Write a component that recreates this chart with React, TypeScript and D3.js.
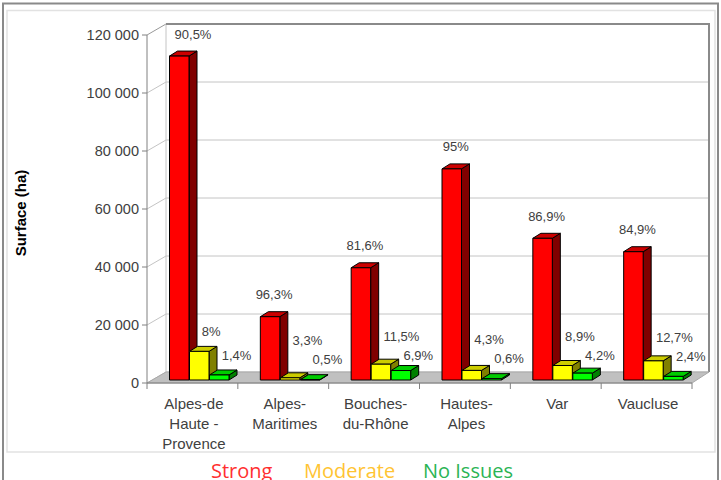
import React from "react";
import * as d3 from "d3";

const categories: string[][] = [
  ["Alpes-de", "Haute -", "Provence"],
  ["Alpes-", "Maritimes"],
  ["Bouches-", "du-Rhône"],
  ["Hautes-", "Alpes"],
  ["Var"],
  ["Vaucluse"],
];
const seriesNames = ["Strong", "Moderate", "No Issues"];
const strongValues = [111700, 21830, 38700, 72800, 48860, 44240];
const moderateValues = [9870, 750, 5450, 3300, 5000, 6600];
const noIssuesValues = [1730, 110, 3270, 460, 2360, 1250];
const strongPct = ["90,5%", "96,3%", "81,6%", "95%", "86,9%", "84,9%"];
const moderatePct = ["8%", "3,3%", "11,5%", "4,3%", "8,9%", "12,7%"];
const noIssuesPct = ["1,4%", "0,5%", "6,9%", "0,6%", "4,2%", "2,4%"];
const yTicks = [0, 20000, 40000, 60000, 80000, 100000, 120000];

const W = 721;
const H = 480;
const DX = 19; // wall depth
const DY = 11;
const BDX = 8; // bar depth
const BDY = 5;

const fmt = d3
  .formatLocale({ decimal: ",", thousands: " ", grouping: [3], currency: ["", ""] })
  .format(",d");

const palette = [
  { front: "#ff0000", top: "#cc0000", side: "#800000" },
  { front: "#ffff00", top: "#cccc00", side: "#808000" },
  { front: "#00ff00", top: "#00cc00", side: "#008000" },
];
const legendColors = ["#ff3030", "#ffc433", "#2bb454"];

export default function App() {
  const y = d3.scaleLinear().domain([0, 120000]).range([383, 35]);
  const names = categories.map((c) => c.join(" "));
  const x = d3.scaleBand<string>().domain(names).range([147, 692]).padding(0);
  const inner = d3.scaleBand<string>().domain(seriesNames).range([22.5, 82.5]).padding(0);
  const bw = 19.5;
  const values = [strongValues, moderateValues, noIssuesValues];
  const pcts = [strongPct, moderatePct, noIssuesPct];

  const wallLeft = 147 + DX;
  const wallRight = 692 + DX - 2;
  const wallTop = y(120000) - DY;
  const floorBack = y(0) - DY;

  const bars: React.ReactNode[] = [];
  const labels: React.ReactNode[] = [];
  names.forEach((name, i) => {
    const x0 = x(name)!;
    let greenCenter = 0;
    const tops: number[] = [];
    seriesNames.forEach((s, k) => {
      const v = values[k][i];
      const left = x0 + inner(s)!;
      const right = left + bw;
      const top = y(v) - 3;
      const bottom = 380;
      tops.push(top);
      const c = palette[k];
      bars.push(
        <g key={`b${i}-${k}`} stroke="#000" strokeWidth={1} strokeLinejoin="round">
          <polygon
            points={`${right},${top} ${right + BDX},${top - BDY} ${right + BDX},${bottom - BDY} ${right},${bottom}`}
            fill={c.side}
          />
          <polygon
            points={`${left},${top} ${left + BDX},${top - BDY} ${right + BDX},${top - BDY} ${right},${top}`}
            fill={c.top}
          />
          <rect x={left} y={top} width={bw} height={bottom - top} fill={c.front} />
        </g>
      );
    });
    // labels
    const centers = seriesNames.map((s) => x0 + inner(s)! + bw / 2);
    // red
    let redCx = centers[0] + 4;
    const redW = pcts[0][i].length * 7.2;
    if (redCx - redW / 2 < wallLeft + 9) redCx = wallLeft + 9 + redW / 2;
    labels.push(
      <text key={`l${i}-0`} x={redCx} y={tops[0] - 22 + 4.5} textAnchor="middle">
        {pcts[0][i]}
      </text>
    );
    greenCenter = Math.max(tops[2] - 20, 355);
    const yellowCenter = Math.min(tops[1] - 20, greenCenter - 19);
    labels.push(
      <text key={`l${i}-1`} x={centers[1] + 2.5} y={yellowCenter + 4.5}>
        {pcts[1][i]}
      </text>
    );
    labels.push(
      <text key={`l${i}-2`} x={centers[2] + 2.5} y={greenCenter + 4.5}>
        {pcts[2][i]}
      </text>
    );
  });

  return (
    <svg
      width={W}
      height={H}
      style={{ position: "absolute", left: 0, top: 0, background: "#fff" }}
      fontFamily="'Liberation Sans', Arial, sans-serif"
    >
      <rect x={0} y={0} width={W} height={H} fill="#fff" />
      {/* frames */}
      <rect x={3} y={3.5} width={715} height={490} fill="none" stroke="#8a8a8a" strokeWidth={2} />
      <rect x={7} y={10.5} width={708} height={441.5} fill="none" stroke="#e2e2e2" strokeWidth={1.5} />

      {/* back wall */}
      <rect x={wallLeft} y={wallTop} width={wallRight - wallLeft} height={floorBack - wallTop} fill="#fff" />
      {yTicks.map((t) => (
        <line
          key={`g${t}`}
          x1={wallLeft}
          x2={wallRight}
          y1={y(t) - DY}
          y2={y(t) - DY}
          stroke="#c4c4c4"
          strokeWidth={1}
        />
      ))}
      {yTicks.map((t) => (
        <line
          key={`d${t}`}
          x1={147}
          y1={y(t)}
          x2={wallLeft}
          y2={y(t) - DY}
          stroke={t === 120000 ? "#999" : "#c4c4c4"}
          strokeWidth={1}
        />
      ))}
      <line x1={wallLeft} x2={wallLeft} y1={wallTop} y2={floorBack} stroke="#c4c4c4" />
      <line x1={wallLeft} x2={wallRight} y1={wallTop} y2={wallTop} stroke="#8a8a8a" strokeWidth={2} />
      <line x1={wallRight} x2={wallRight} y1={wallTop - 1} y2={floorBack} stroke="#8a8a8a" strokeWidth={2} />

      {/* floor */}
      <polygon
        points={`147,${y(0)} ${wallLeft},${floorBack} ${wallRight},${floorBack} 692,${y(0)}`}
        fill="#c0c0c0"
        stroke="#a8a8a8"
        strokeWidth={1}
      />

      {/* y axis */}
      <line x1={147} x2={147} y1={y(120000)} y2={y(0)} stroke="#808080" />
      {yTicks.map((t) => (
        <g key={`t${t}`}>
          <line x1={142} x2={147} y1={y(t)} y2={y(t)} stroke="#808080" />
          <text x={139} y={y(t) + 5} textAnchor="end" fontSize={14.5} fill="#404040">
            {fmt(t)}
          </text>
        </g>
      ))}
      {/* x axis */}
      <line x1={147} x2={692} y1={y(0)} y2={y(0)} stroke="#808080" />
      {[...names.map((n) => x(n)!), 692].map((px, i) => (
        <line key={`xt${i}`} x1={px} x2={px} y1={y(0)} y2={y(0) + 6} stroke="#808080" />
      ))}
      {categories.map((lines, i) => (
        <text
          key={`c${i}`}
          x={x(names[i])! + x.bandwidth() / 2 + 1.5}
          textAnchor="middle"
          fontSize={15}
          fill="#404040"
        >
          {lines.map((l, j) => (
            <tspan key={j} x={x(names[i])! + x.bandwidth() / 2 + 1.5} y={408.5 + j * 20}>
              {l}
            </tspan>
          ))}
        </text>
      ))}

      {/* bars */}
      {bars}

      {/* labels */}
      <g fontSize={13} fill="#404040">
        {labels}
      </g>

      {/* y title */}
      <text
        transform="translate(26,213) rotate(-90)"
        textAnchor="middle"
        fontSize={15}
        fontWeight="bold"
        fill="#000"
      >
        Surface (ha)
      </text>

      {/* legend */}
      <g fontFamily="'Open Sans', sans-serif" fontSize={20}>
        {seriesNames.map((s, k) => (
          <text key={s} x={[211, 304, 423][k]} y={478} fill={legendColors[k]}>
            {s}
          </text>
        ))}
      </g>
    </svg>
  );
}
